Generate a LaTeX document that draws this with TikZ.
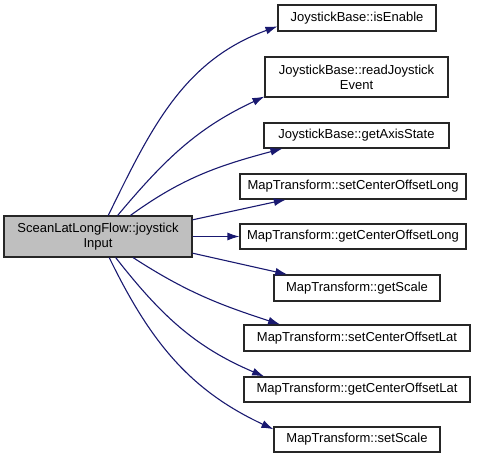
\documentclass[tikz,border=0pt]{standalone}
\usepackage{fontspec}
\setmainfont{Liberation Sans}
\usetikzlibrary{arrows.meta}
\definecolor{callblue}{HTML}{191970}
\definecolor{maingray}{HTML}{BFBFBF}

\begin{document}
\begin{tikzpicture}[x=1pt,y=1pt,
 fn/.style={draw=black!85,line width=1.1pt,align=center,inner sep=0pt,font=\fontsize{13}{15}\selectfont},
 call/.style={draw=callblue,line width=1.1pt,-{Latex[length=12pt,width=8pt]}}]
\useasboundingbox (0,0) rectangle (480,459);

\node[fn,fill=maingray,minimum width=188pt,minimum height=41pt] (joystickInput) at (98,222.5) {SceanLatLongFlow::joystick\\Input};

\node[fn,minimum width=158pt,minimum height=26pt] (isEnable) at (357,441) {JoystickBase::isEnable};
\node[fn,minimum width=183pt,minimum height=40pt] (readJoystickEvent) at (356.5,382) {JoystickBase::readJoystick\\Event};
\node[fn,minimum width=185pt,minimum height=25pt] (getAxisState) at (356.5,323.5) {JoystickBase::getAxisState};
\node[fn,minimum width=226pt,minimum height=25pt] (setCenterOffsetLong) at (353,272.5) {MapTransform::setCenterOffsetLong};
\node[fn,minimum width=226pt,minimum height=25pt] (getCenterOffsetLong) at (353,222.5) {MapTransform::getCenterOffsetLong};
\node[fn,minimum width=166pt,minimum height=26pt] (getScale) at (357,171) {MapTransform::getScale};
\node[fn,minimum width=226pt,minimum height=26pt] (setCenterOffsetLat) at (357,121) {MapTransform::setCenterOffsetLat};
\node[fn,minimum width=226pt,minimum height=25pt] (getCenterOffsetLat) at (357,69.5) {MapTransform::getCenterOffsetLat};
\node[fn,minimum width=166pt,minimum height=25pt] (setScale) at (357,19.5) {MapTransform::setScale};

% calls
\draw[call] (joystickInput.64) to[out=64,in=200] (isEnable.186);
\draw[call] (joystickInput.47) to[out=50,in=205] (readJoystickEvent.192);
\draw[call] (joystickInput.33) to[out=36,in=195] (getAxisState.190);
\draw[call] (joystickInput.10) -- (setCenterOffsetLong.191);
\draw[call] (joystickInput.east) -- (getCenterOffsetLong.west);
\draw[call] (joystickInput.-10) -- (getScale.169);
\draw[call] (joystickInput.-31) to[out=-33,in=162] (setCenterOffsetLat.170);
\draw[call] (joystickInput.-50) to[out=-52,in=157] (getCenterOffsetLat.172);
\draw[call] (joystickInput.-62) to[out=-64,in=155] (setScale.173);
\end{tikzpicture}
\end{document}
